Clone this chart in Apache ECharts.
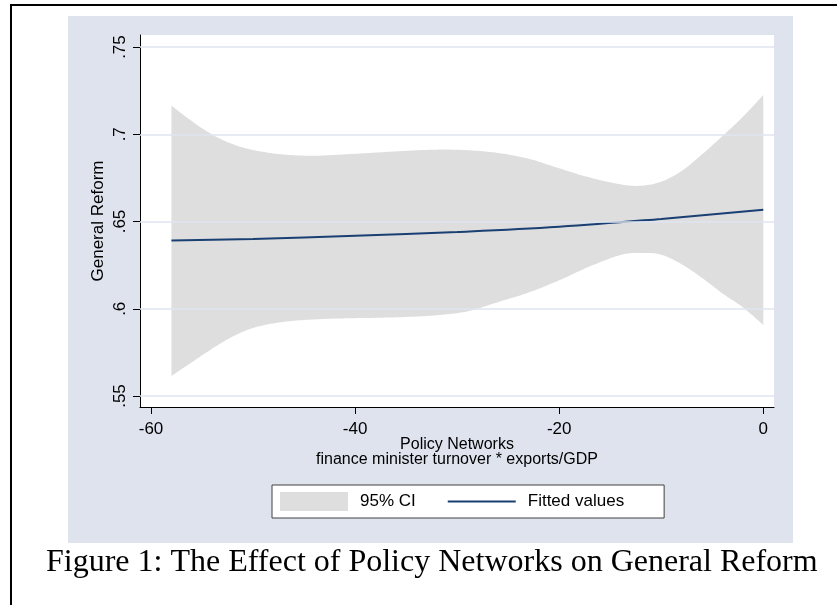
<!DOCTYPE html>
<html>
<head>
<meta charset="utf-8">
<script src="https://cdn.jsdelivr.net/npm/echarts@6/dist/echarts.min.js"></script>
<style>
  html, body { margin: 0; padding: 0; background: #ffffff; }
  #chart { width: 837px; height: 605px; }
</style>
</head>
<body>
<div id="chart"></div>
<script>
// Confidence band around the fitted reform effect
const ciX     = [-58, -55, -52.5, -50, -47, -44, -41, -38, -35, -32, -29, -26, -23, -20, -17, -14, -12, -10, -8, -6, -4, -2, 0];
const ciUpper = [0.7164, 0.7034, 0.6955, 0.6910, 0.6884, 0.6877, 0.6885, 0.6895, 0.6905, 0.6912, 0.6909, 0.6893, 0.6860, 0.6805, 0.6752, 0.6713, 0.6705, 0.6728, 0.6790, 0.6885, 0.6990, 0.7100, 0.7225];
const ciLower = [0.5615, 0.5733, 0.5825, 0.5890, 0.5925, 0.5939, 0.5945, 0.5948, 0.5953, 0.5963, 0.5985, 0.6038, 0.6093, 0.6163, 0.6243, 0.6308, 0.6320, 0.6310, 0.6255, 0.6177, 0.6088, 0.6008, 0.5907];

// Fitted values line
const fitX = [-58, -50, -40, -30, -20, -10, 0];
const fitY = [0.6391, 0.6400, 0.6418, 0.6440, 0.6470, 0.6515, 0.6567];

// Axis ticks
const xTicks = [-60, -40, -20, 0];
const yTicks = [0.55, 0.6, 0.65, 0.7, 0.75];
const yTickLabels = ['.55', '.6', '.65', '.7', '.75'];

const SANS = '"Liberation Sans", Arial, sans-serif';
const SERIF = '"Liberation Serif", "Times New Roman", serif';
const NAVY = '#1a3f73';
const BAND = '#dedede';

const chart = echarts.init(document.getElementById('chart'), null, { renderer: 'canvas' });

const pairs = (xs, ys) => xs.map((x, i) => [x, ys[i]]);

// Catmull-Rom smoothing of pixel points into a dense polyline
function smoothPoints(pts, steps) {
  const out = [];
  const n = pts.length;
  for (let i = 0; i < n - 1; i++) {
    const p0 = pts[Math.max(i - 1, 0)], p1 = pts[i], p2 = pts[i + 1], p3 = pts[Math.min(i + 2, n - 1)];
    const c1 = [p1[0] + (p2[0] - p0[0]) / 6, p1[1] + (p2[1] - p0[1]) / 6];
    const c2 = [p2[0] - (p3[0] - p1[0]) / 6, p2[1] - (p3[1] - p1[1]) / 6];
    for (let s = 0; s < steps; s++) {
      const t = s / steps, u = 1 - t;
      out.push([
        u * u * u * p1[0] + 3 * u * u * t * c1[0] + 3 * u * t * t * c2[0] + t * t * t * p2[0],
        u * u * u * p1[1] + 3 * u * u * t * c1[1] + 3 * u * t * t * c2[1] + t * t * t * p2[1]
      ]);
    }
  }
  out.push(pts[n - 1]);
  return out;
}

function renderBand(params, api) {
  const up = ciX.map((x, i) => api.coord([x, ciUpper[i]]));
  const lo = ciX.map((x, i) => api.coord([x, ciLower[i]])).reverse();
  const points = smoothPoints(up, 12).concat(smoothPoints(lo, 12));
  return { type: 'polygon', shape: { points: points }, style: { fill: BAND }, silent: true };
}

chart.setOption({
  animation: false,
  backgroundColor: '#ffffff',
  graphic: [
    { type: 'rect', z: -10, shape: { x: 11, y: 5, width: 900, height: 700 },
      style: { fill: '#ffffff', stroke: '#000000', lineWidth: 2 } },
    { type: 'rect', z: -9, shape: { x: 68, y: 16, width: 725, height: 527 },
      style: { fill: '#dfe3ee' } },
    { type: 'rect', z: -8, shape: { x: 140, y: 35, width: 634, height: 372 },
      style: { fill: '#ffffff' } },
    { type: 'text', z: 10, left: 46, top: 547,
      style: { text: 'Figure 1: The Effect of Policy Networks on General Reform',
               font: '32px ' + SERIF, fill: '#000000' } }
  ],
  grid: { left: 140, top: 35, right: 63, bottom: 198, containLabel: false },
  legend: {
    left: 272, top: 485,
    padding: [7, 40, 7, 8],
    backgroundColor: '#ffffff',
    borderColor: '#404040', borderWidth: 1,
    itemGap: 32, itemWidth: 68, itemHeight: 19,
    textStyle: { fontFamily: SANS, fontSize: 17, color: '#000000', padding: [2, 0, 0, 7] },
    data: [
      { name: '95% CI', icon: 'rect', itemStyle: { color: BAND } },
      { name: 'Fitted values', icon: 'path://M0,0 H68 V2 H0 Z', itemStyle: { color: NAVY } }
    ]
  },
  xAxis: {
    type: 'value', min: -61.08, max: 1.05,
    name: 'Policy Networks\nfinance minister turnover * exports/GDP',
    nameLocation: 'middle', nameGap: 30, nameMoveOverlap: false,
    nameTextStyle: { fontFamily: SANS, fontSize: 16, color: '#000000', lineHeight: 15 },
    axisLine: { show: true, onZero: false, lineStyle: { color: '#000000', width: 1 } },
    axisTick: { show: true, customValues: xTicks, length: 7, lineStyle: { color: '#000000' } },
    axisLabel: { customValues: xTicks, fontFamily: SANS, fontSize: 17, color: '#000000', margin: 14 },
    splitLine: { show: false }
  },
  yAxis: {
    type: 'value', min: 0.5437, max: 0.7569,
    name: 'General Reform',
    nameLocation: 'middle', nameGap: 33, nameMoveOverlap: false,
    nameTextStyle: { fontFamily: SANS, fontSize: 17, color: '#000000' },
    axisLine: { show: true, onZero: false, lineStyle: { color: '#000000', width: 1 } },
    axisTick: { show: true, customValues: yTicks, length: 7, lineStyle: { color: '#000000' } },
    axisLabel: {
      customValues: yTicks, rotate: 90, fontFamily: SANS, fontSize: 17, color: '#000000', margin: 11,
      formatter: (v) => yTickLabels[yTicks.findIndex(t => Math.abs(t - v) < 1e-6)] ?? ''
    },
    splitLine: { show: false }
  },
  series: [
    {
      // horizontal grid lines at each y tick
      type: 'line', z: 1, silent: true, data: [],
      markLine: {
        silent: true, symbol: 'none', label: { show: false },
        lineStyle: { color: '#dfe4ef', width: 1.5, type: 'solid' },
        data: yTicks.map(v => ({ yAxis: v }))
      }
    },
    {
      name: '95% CI', type: 'custom', z: 2, silent: true,
      coordinateSystem: 'cartesian2d',
      itemStyle: { color: BAND },
      encode: { x: 0, y: 1 },
      data: [[ciX[0], ciLower[0]]],
      renderItem: renderBand
    },
    {
      name: 'Fitted values', type: 'line', z: 3, smooth: 0.4,
      symbol: 'none', silent: true,
      itemStyle: { color: NAVY },
      lineStyle: { color: NAVY, width: 2 },
      data: pairs(fitX, fitY)
    }
  ]
});
</script>
</body>
</html>
